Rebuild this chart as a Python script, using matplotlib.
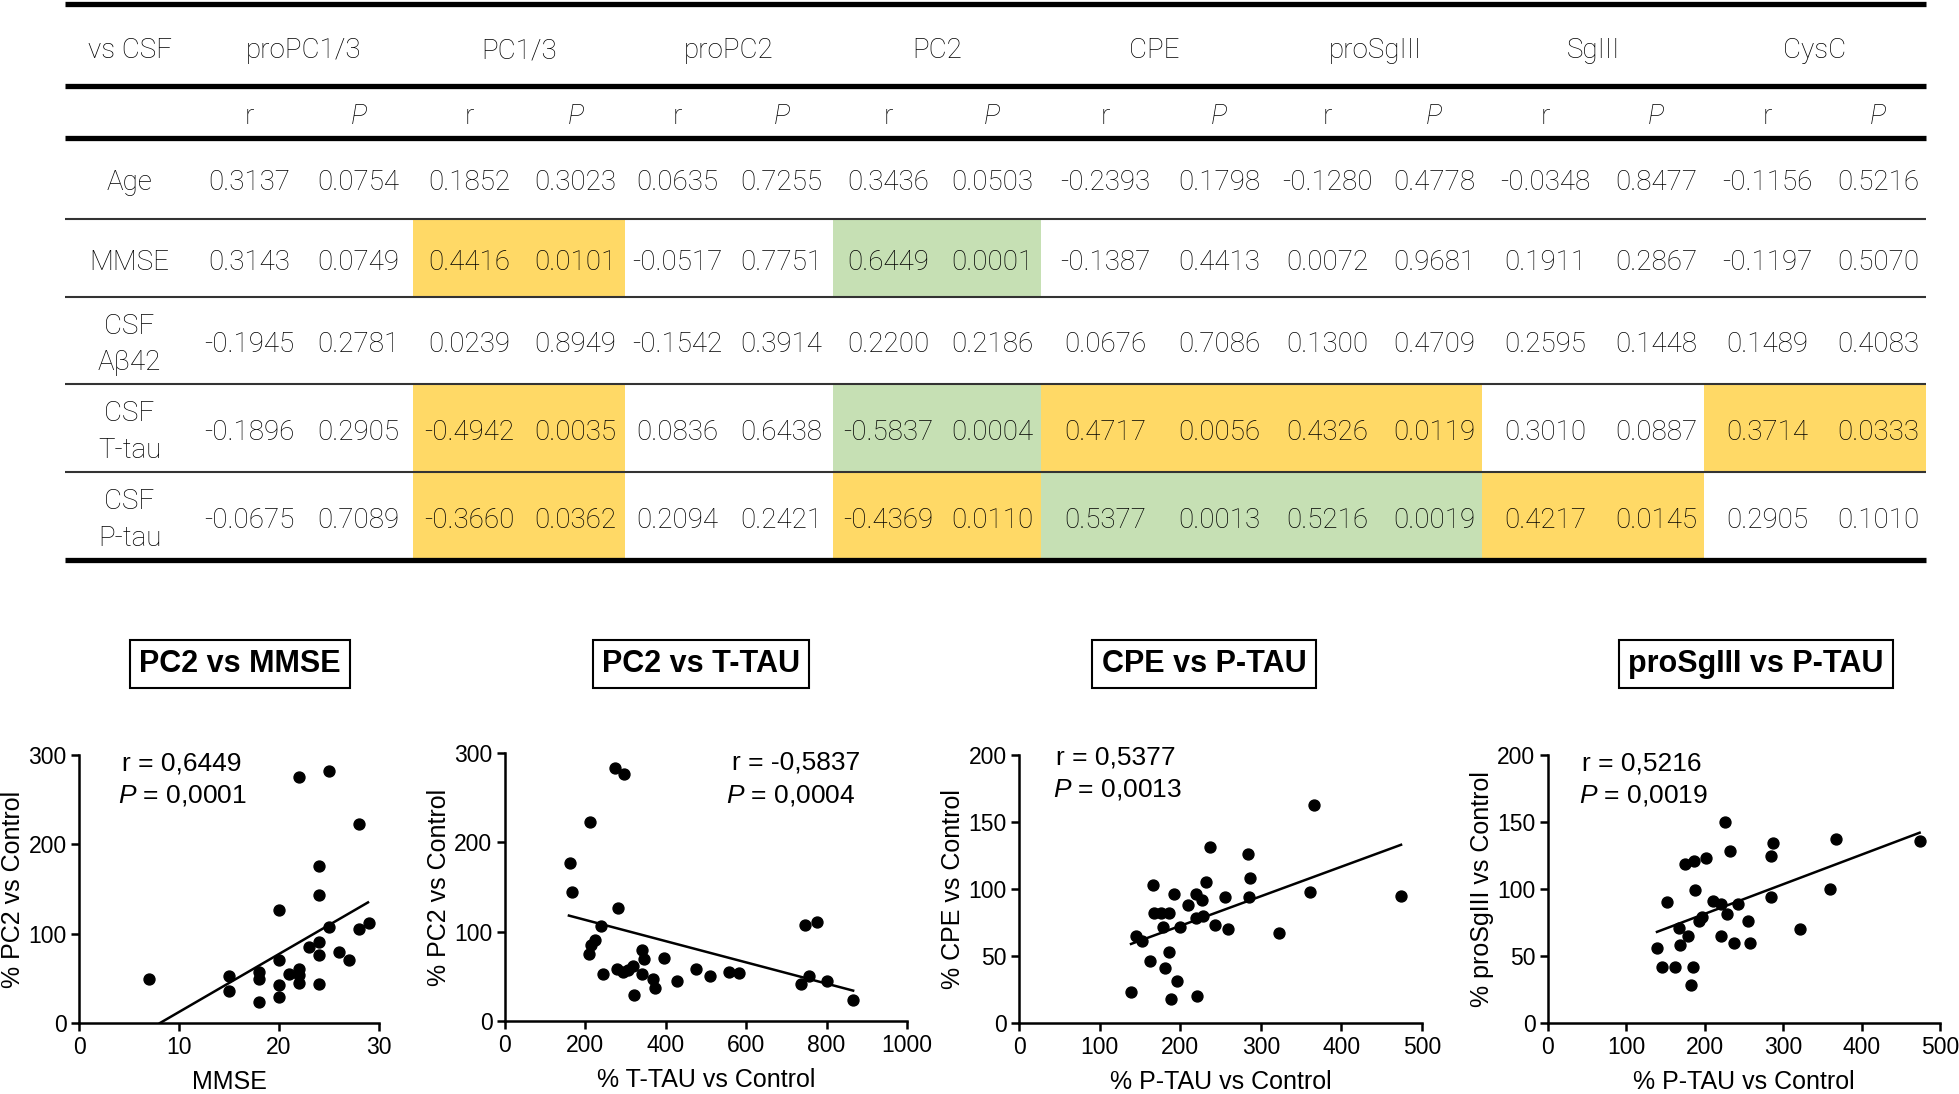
import numpy as np
import matplotlib.pyplot as plt
from matplotlib.patches import Rectangle

plt.rcParams['mathtext.fontset'] = 'custom'
plt.rcParams['mathtext.it'] = 'Liberation Sans:italic'
plt.rcParams['mathtext.rm'] = 'Liberation Sans'

# ---- table data ----
markers = ['proPC1/3', 'PC1/3', 'proPC2', 'PC2', 'CPE', 'proSgIII', 'SgIII', 'CysC']
row_names = ['Age', 'MMSE', 'CSF\nAβ42', 'CSF\nT-tau', 'CSF\nP-tau']
r_vals = [
    [0.3137, 0.1852, 0.0635, 0.3436, -0.2393, -0.1280, -0.0348, -0.1156],
    [0.3143, 0.4416, -0.0517, 0.6449, -0.1387, 0.0072, 0.1911, -0.1197],
    [-0.1945, 0.0239, -0.1542, 0.2200, 0.0676, 0.1300, 0.2595, 0.1489],
    [-0.1896, -0.4942, 0.0836, -0.5837, 0.4717, 0.4326, 0.3010, 0.3714],
    [-0.0675, -0.3660, 0.2094, -0.4369, 0.5377, 0.5216, 0.4217, 0.2905],
]
p_vals = [
    [0.0754, 0.3023, 0.7255, 0.0503, 0.1798, 0.4778, 0.8477, 0.5216],
    [0.0749, 0.0101, 0.7751, 0.0001, 0.4413, 0.9681, 0.2867, 0.5070],
    [0.2781, 0.8949, 0.3914, 0.2186, 0.7086, 0.4709, 0.1448, 0.4083],
    [0.2905, 0.0035, 0.6438, 0.0004, 0.0056, 0.0119, 0.0887, 0.0333],
    [0.7089, 0.0362, 0.2421, 0.0110, 0.0013, 0.0019, 0.0145, 0.1010],
]
# 0 = none, 1 = yellow, 2 = green
highlight = [
    [0, 0, 0, 0, 0, 0, 0, 0],
    [0, 1, 0, 2, 0, 0, 0, 0],
    [0, 0, 0, 0, 0, 0, 0, 0],
    [0, 1, 0, 2, 1, 1, 0, 1],
    [0, 1, 0, 1, 2, 2, 1, 0],
]

# ---- scatter data ----
mmse = [7, 15, 15, 18, 18, 18, 20, 20, 20, 20, 21, 22, 22, 22, 22, 23, 24, 24, 24, 24, 24, 25, 25, 26, 27, 28, 28, 29]
pc2_mmse = [49, 53, 36, 57, 49, 23, 127, 71, 42, 29, 55, 275, 61, 54, 45, 85, 176, 143, 91, 76, 44, 282, 107, 79, 70, 223, 105, 112]

ttau = [162, 167, 211, 273, 296, 280, 240, 209, 213, 225, 244, 278, 294, 307, 319, 342, 346, 340, 321,
        369, 373, 396, 429, 475, 510, 558, 582, 736, 755, 747, 776, 801, 866]
pc2_ttau = [177, 144, 223, 283, 276, 127, 106, 75, 85, 91, 53, 58, 55, 57, 62, 80, 69, 53, 29,
            47, 37, 71, 45, 58, 50, 55, 54, 41, 50, 107, 111, 45, 24]

ptau_cpe = [139, 145, 153, 162, 166, 167, 176, 179, 186, 186, 181, 189, 196, 192, 200, 210, 219, 220, 221,
            227, 228, 232, 237, 243, 255, 259, 284, 287, 285, 323, 361, 366, 474]
cpe = [23, 65, 61, 46, 103, 82, 82, 72, 82, 53, 41, 18, 31, 96, 72, 88, 96, 78, 20,
       92, 80, 105, 131, 73, 94, 70, 126, 108, 94, 67, 98, 163, 95]

ptau_sg = [139, 146, 152, 162, 167, 168, 175, 179, 186, 185, 182, 188, 192, 196, 201, 210, 221, 221, 226,
           228, 232, 237, 242, 255, 258, 284, 287, 285, 322, 360, 367, 474]
prosg = [56, 42, 90, 42, 71, 58, 119, 65, 121, 42, 28, 99, 76, 79, 123, 91, 89, 65, 150,
         81, 128, 60, 89, 76, 60, 125, 134, 94, 70, 100, 137, 136]

# regression line end points
fit_mmse = ([8.1, 28.9], [0, 135])
fit_ttau = ([159, 866], [118, 34])
fit_cpe = ([139, 474], [59, 133])
fit_sg = ([139, 474], [68, 142])

W, H = 1959, 1094
fig = plt.figure(figsize=(W / 100, H / 100), dpi=100)

# ---------------- table ----------------
tab = fig.add_axes([0, 0, 1, 1])
tab.set_xlim(0, W)
tab.set_ylim(H, 0)
tab.axis('off')

col_edges = [65, 194, 304, 413, 526, 625, 730, 833, 943, 1041, 1170, 1268, 1386, 1482, 1608, 1704, 1830, 1926]
row_edges = [138, 219, 297, 384, 472, 560]
fills = {1: '#FFD966', 2: '#C6E0B4'}
tfont = dict(family=['Roboto', 'DejaVu Sans'], weight='light', color='black')
fs = 20
dy = 4  # small downward nudge so the digits sit like the original

for i in range(len(row_names)):
    for j in range(len(markers)):
        c = highlight[i][j]
        if c:
            x0 = col_edges[1 + 2 * j]
            x1 = col_edges[3 + 2 * j]
            tab.add_patch(Rectangle((x0, row_edges[i]), x1 - x0, row_edges[i + 1] - row_edges[i],
                                    facecolor=fills[c], edgecolor='none', zorder=1))

for y in [4, 86, 138, 560]:
    tab.plot([col_edges[0], col_edges[-1]], [y, y], color='black', lw=3.8, solid_capstyle='butt', zorder=3)
for y in row_edges[1:-1]:
    tab.plot([col_edges[0], col_edges[-1]], [y, y], color='#333333', lw=1.5, solid_capstyle='butt', zorder=3)

lab_x = (col_edges[0] + col_edges[1]) / 2
tab.text(lab_x, 47 + dy, 'vs CSF', ha='center', va='center', fontsize=fs, **tfont)
for j, m in enumerate(markers):
    xc = (col_edges[1 + 2 * j] + col_edges[3 + 2 * j]) / 2
    tab.text(xc, 47 + dy, m, ha='center', va='center', fontsize=fs, **tfont)
    xr = (col_edges[1 + 2 * j] + col_edges[2 + 2 * j]) / 2
    xp = (col_edges[2 + 2 * j] + col_edges[3 + 2 * j]) / 2
    tab.text(xr, 112 + dy, 'r', ha='center', va='center', fontsize=fs, **tfont)
    tab.text(xp, 112 + dy, 'P', ha='center', va='center', fontsize=fs, style='italic', **tfont)

for i, name in enumerate(row_names):
    yc = (row_edges[i] + row_edges[i + 1]) / 2 + dy
    tab.text(lab_x, yc, name, ha='center', va='center', fontsize=fs, linespacing=1.45, **tfont)
    for j in range(len(markers)):
        xr = (col_edges[1 + 2 * j] + col_edges[2 + 2 * j]) / 2
        xp = (col_edges[2 + 2 * j] + col_edges[3 + 2 * j]) / 2
        tab.text(xr, yc, '{:.4f}'.format(r_vals[i][j]), ha='center', va='center', fontsize=fs, **tfont)
        tab.text(xp, yc, '{:.4f}'.format(p_vals[i][j]), ha='center', va='center', fontsize=fs, **tfont)

# ---------------- scatter panels ----------------
sfont = 'Liberation Sans'


def panel(box, x, y, fit, xlim, ylim, xticks, yticks, xlabel, ylabel, rtxt, ptxt, rpos, ppos, title, tx):
    x0, x1, yt, yb = box
    ax = fig.add_axes([x0 / W, (H - yb) / H, (x1 - x0) / W, (yb - yt) / H])
    ax.scatter(x, y, s=62, color='black', zorder=3, clip_on=False)
    ax.plot(fit[0], fit[1], color='black', lw=1.8)
    ax.set_xlim(*xlim)
    ax.set_ylim(*ylim)
    ax.set_xticks(xticks)
    ax.set_yticks(yticks)
    for s in ['top', 'right']:
        ax.spines[s].set_visible(False)
    for s in ['left', 'bottom']:
        ax.spines[s].set_linewidth(1.8)
    ax.tick_params(width=1.8, length=6, labelsize=16.5, pad=3)
    for t in ax.get_xticklabels() + ax.get_yticklabels():
        t.set_family(sfont)
    ax.set_xlabel(xlabel, fontsize=18, family=sfont, labelpad=8)
    ax.set_ylabel(ylabel, fontsize=18, family=sfont, labelpad=2)
    ax.text(rpos[0], rpos[1], rtxt, transform=ax.transAxes, ha='left', va='center', fontsize=19, family=sfont)
    ax.text(ppos[0], ppos[1], ptxt, transform=ax.transAxes, ha='left', va='center', fontsize=19, family=sfont)
    fig.text(tx / W, (H - 664) / H, title, ha='center', va='center', fontsize=22, weight='bold', family=sfont,
             bbox=dict(boxstyle='square,pad=0.3', facecolor='white', edgecolor='black', lw=1.5))
    return ax


panel((79, 379, 755, 1023), mmse, pc2_mmse, fit_mmse, (0, 30), (0, 300), [0, 10, 20, 30], [0, 100, 200, 300],
      'MMSE', '% PC2 vs Control', 'r = 0,6449', r'$P$ = 0,0001', (0.143, 0.97), (0.13, 0.85),
      'PC2 vs MMSE', 240)
panel((505, 907, 753, 1021), ttau, pc2_ttau, fit_ttau, (0, 1000), (0, 300), np.arange(0, 1001, 200),
      [0, 100, 200, 300], '% T-TAU vs Control', '% PC2 vs Control', 'r = -0,5837', r'$P$ = 0,0004',
      (0.565, 0.963), (0.55, 0.843), 'PC2 vs T-TAU', 701)
panel((1019, 1422, 755, 1023), ptau_cpe, cpe, fit_cpe, (0, 500), (0, 200), np.arange(0, 501, 100),
      np.arange(0, 201, 50), '% P-TAU vs Control', '% CPE vs Control', 'r = 0,5377', r'$P$ = 0,0013',
      (0.092, 0.99), (0.084, 0.87), 'CPE vs P-TAU', 1204)
panel((1548, 1940, 755, 1023), ptau_sg, prosg, fit_sg, (0, 500), (0, 200), np.arange(0, 501, 100),
      np.arange(0, 201, 50), '% P-TAU vs Control', '% proSgIII vs Control', 'r = 0,5216', r'$P$ = 0,0019',
      (0.087, 0.97), (0.08, 0.85), 'proSgIII vs P-TAU', 1756)

fig.savefig('out.png', dpi=100)
